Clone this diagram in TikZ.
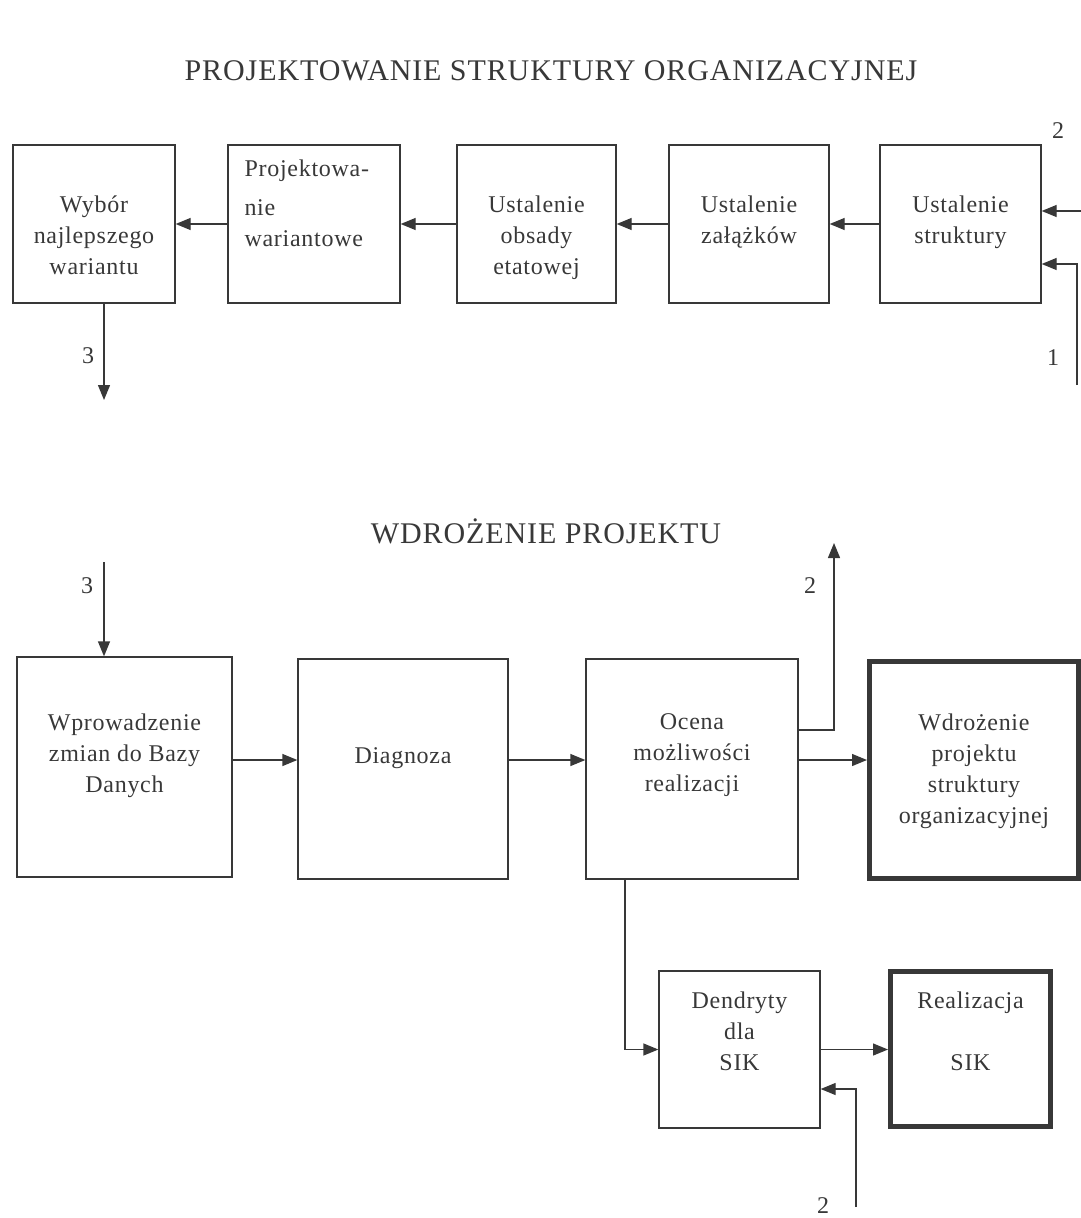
\documentclass[tikz,border=0pt]{standalone}
\usepackage{fontspec}
\setmainfont{Liberation Serif}[LetterSpace=3]
\usetikzlibrary{arrows.meta}
\definecolor{ink}{gray}{0.22}
\tikzset{
  >={Triangle[length=15pt,width=12pt]},
  line/.style={draw=ink, line width=1.3pt},
  box/.style={draw=ink, line width=1.3pt, inner sep=0pt},
  boxthick/.style={box, line width=5pt},
  txt/.style={text=ink, inner sep=0pt, align=center, anchor=north,
    font=\fontsize{24}{31}\selectfont, execute at begin node=\strut},
  num/.style={text=ink, inner sep=0pt, anchor=base, font=\fontsize{24}{28}\selectfont},
  heading/.style={text=ink, inner sep=0pt, anchor=base, font=\fontsize{30}{36}\selectfont},
}

\begin{document}
\begin{tikzpicture}[x=1pt,y=-1pt]
\useasboundingbox (0,0) rectangle (1081,1218);

\node[heading] (title1) at (551,80) {PROJEKTOWANIE STRUKTURY ORGANIZACYJNEJ};

\node[box, minimum width=162, minimum height=158] (wybor) at (94,224) {};
\node[box, minimum width=172, minimum height=158] (wariant) at (314,224) {};
\node[box, minimum width=159, minimum height=158] (obsada) at (536.5,224) {};
\node[box, minimum width=160, minimum height=158] (zalazki) at (749,224) {};
\node[box, minimum width=161, minimum height=158] (struktura) at (960.5,224) {};

\node[txt] (wybor-t) at ([yshift=-51]wybor.north) {Wybór\\najlepszego\\wariantu};
\node[txt, anchor=north west, align=left] (wariant-t) at ([xshift=17,yshift=-15]wariant.north west) {Projektowa-\\[8pt]nie\\wariantowe};
\node[txt] (obsada-t) at ([yshift=-51]obsada.north) {Ustalenie\\obsady\\etatowej};
\node[txt] (zalazki-t) at ([yshift=-51]zalazki.north) {Ustalenie\\załążków};
\node[txt] (struktura-t) at ([yshift=-51]struktura.north) {Ustalenie\\struktury};

\draw[line,->] (wariant) -- (wybor);
\draw[line,->] (obsada) -- (wariant);
\draw[line,->] (zalazki) -- (obsada);
\draw[line,->] (struktura) -- (zalazki);

\coordinate (in2) at (1081,211);
\coordinate (in1) at (1077,385);
\coordinate (out3) at (104,400);
\draw[line,->] (in2) -- (in2 -| struktura.east);
\draw[line,->] (in1) |- (struktura.east |- 0,264);
\draw[line,->] (out3 |- wybor.south) -- (out3);

\node[num] (lab2) at (1058,138) {2};
\node[num] (lab1) at (1053,365) {1};
\node[num] (lab3) at (88,363) {3};

\node[heading] (title2) at (546,543) {WDROŻENIE PROJEKTU};

\node[box, minimum width=215, minimum height=220] (wprow) at (124.5,767) {};
\node[box, minimum width=210, minimum height=220] (diag) at (403,769) {};
\node[box, minimum width=212, minimum height=220] (ocena) at (692,769) {};
\node[boxthick, minimum width=209, minimum height=217] (wdroz) at (974,770) {};
\node[box, minimum width=161, minimum height=157] (dendryt) at (739.5,1049.5) {};
\node[boxthick, minimum width=160, minimum height=155] (realiz) at (970.5,1049) {};

\node[txt] (wprow-t) at ([yshift=-57]wprow.north) {Wprowadzenie\\zmian do Bazy\\Danych};
\node[txt] (diag-t) at ([yshift=-83]diag.north) {Diagnoza};
\node[txt] (ocena-t) at ([yshift=-55]ocena.north) {Ocena\\możliwości\\realizacji};
\node[txt] (wdroz-t) at ([yshift=-55]wdroz.north) {Wdrożenie\\projektu\\struktury\\organizacyjnej};
\node[txt] (dendryt-t) at ([yshift=-21]dendryt.north) {Dendryty\\dla\\SIK};
\node[txt] (realiz-t) at ([yshift=-23]realiz.north) {Realizacja\\[31pt]SIK};

\coordinate (in3) at (104,562);
\coordinate (rowB) at (0,760);
\coordinate (out2) at (834,543);
\coordinate (down) at (625,0);
\coordinate (in2b) at (856,1207);
\draw[line,->] (in3) -- (in3 |- wprow.north);
\draw[line,->] (wprow.east |- rowB) -- (diag.west |- rowB);
\draw[line,->] (diag.east |- rowB) -- (ocena.west |- rowB);
\draw[line,->] (ocena.east |- rowB) -- (wdroz.west |- rowB);
\draw[line,->] (ocena.east |- 0,730) -| (out2);
\draw[line,->] (down |- ocena.south) |- (dendryt.west);
\draw[line,->] (dendryt.east) -- (realiz.west |- dendryt.east);
\draw[line,->] (in2b) |- (dendryt.east |- 0,1089);

\node[num] (lab3b) at (87,593) {3};
\node[num] (lab2b) at (810,593) {2};
\node[num] (lab2c) at (823,1213) {2};
\end{tikzpicture}
\end{document}
